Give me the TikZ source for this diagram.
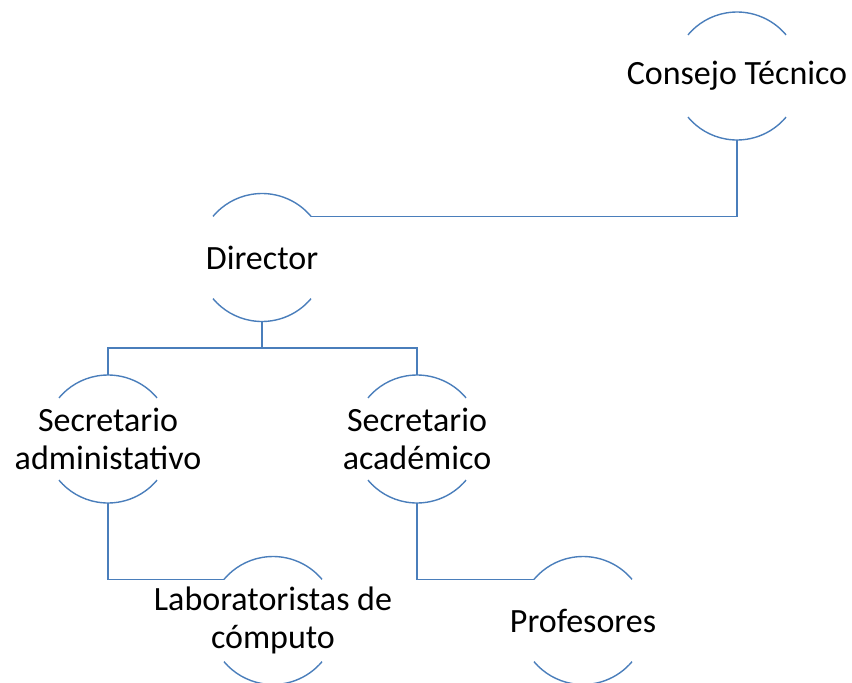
\documentclass[tikz,border=0pt]{standalone}
\usepackage{fontspec}
\setmainfont{Carlito}
\definecolor{linecol}{RGB}{74,126,187}
\begin{document}
\begin{tikzpicture}[x=1pt,y=1pt,
  ring/.style={circle,draw=none,minimum size=128pt,inner sep=0pt,outer sep=0pt},
  txt/.style={align=center,inner sep=0pt,font=\fontsize{34}{38}\selectfont},
  conn/.style={draw=linecol,line width=1.4pt}]
\useasboundingbox (0,0) rectangle (852,-683);
\node[ring] (ct)  at (737,-76)  {};
\node[ring] (dir) at (262,-257.5) {};
\node[ring] (sa)  at (108,-439) {};
\node[ring] (sac) at (417,-439) {};
\node[ring] (lab) at (273,-620.5) {};
\node[ring] (prof) at (583,-620.5) {};
\foreach \n in {ct,dir,sa,sac,lab,prof}{
  \draw[conn] ([shift={(40:64pt)}]\n.center) arc[start angle=40,end angle=140,radius=64pt];
  \draw[conn] ([shift={(-40:64pt)}]\n.center) arc[start angle=-40,end angle=-140,radius=64pt];
}
\node[txt] (ctt) at (ct) {Consejo Técnico};
\node[txt] (dirt) at (dir) {Director};
\node[txt] (sat) at (sa) {Secretario\\administativo};
\node[txt] (sact) at (sac) {Secretario\\académico};
\node[txt] (labt) at (lab) {Laboratoristas de\\cómputo};
\node[txt] (proft) at (prof) {Profesores};
\coordinate (bus) at (262,-348);
\draw[conn] (ct.south) |- (dir.40);
\draw[conn] (dir.south) -- (bus);
\draw[conn] (sa.north) |- (bus) -| (sac.north);
\draw[conn] (sa.south) |- (lab.140);
\draw[conn] (sac.south) |- (prof.140);
\end{tikzpicture}
\end{document}
